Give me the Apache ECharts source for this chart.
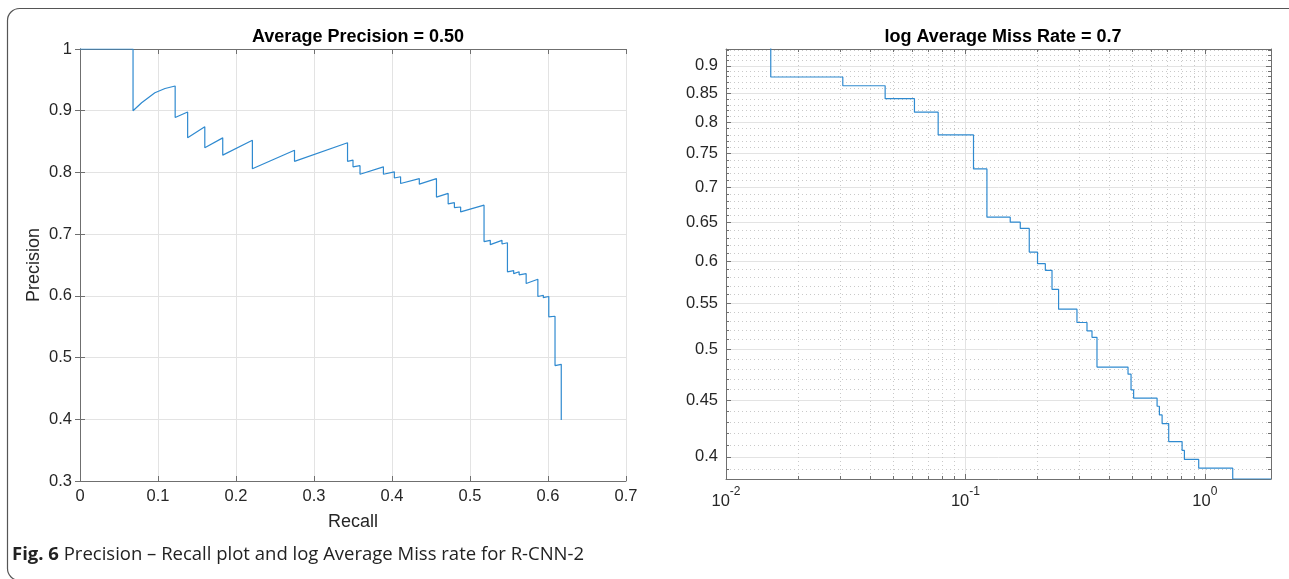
<!DOCTYPE html>
<html><head><meta charset="utf-8">
<script src="https://cdn.jsdelivr.net/npm/echarts@6/dist/echarts.min.js"></script>
<style>html,body{margin:0;padding:0;background:#fff}#c{width:1289px;height:579px}</style>
</head><body><div id="c"></div><script>
// ---- Precision-Recall data ----
const prRecall = [0,0.068,0.068,0.079,0.096,0.109,0.122,0.122,0.138,0.138,0.160,0.160,0.183,0.183,0.221,0.221,0.275,0.275,0.343,0.343,0.350,0.350,0.359,0.359,0.389,0.389,0.403,0.403,0.411,0.411,0.435,0.435,0.457,0.457,0.472,0.472,0.480,0.480,0.488,0.488,0.518,0.518,0.526,0.526,0.541,0.541,0.548,0.548,0.556,0.556,0.563,0.563,0.572,0.572,0.587,0.587,0.594,0.594,0.601,0.601,0.609,0.609,0.617,0.617];
const prPrecision = [1,1,0.900,0.913,0.929,0.936,0.940,0.889,0.898,0.856,0.874,0.840,0.856,0.828,0.852,0.806,0.836,0.818,0.848,0.818,0.820,0.809,0.811,0.797,0.809,0.797,0.801,0.791,0.793,0.782,0.790,0.781,0.790,0.760,0.766,0.749,0.751,0.743,0.744,0.736,0.747,0.688,0.690,0.683,0.690,0.684,0.686,0.639,0.641,0.636,0.639,0.634,0.636,0.620,0.627,0.599,0.601,0.597,0.599,0.566,0.567,0.487,0.489,0.399];
// ---- Miss rate vs FPPI data ----
const fppi = [0.01538,0.01538,0.03075,0.04621,0.06126,0.07695,0.1081,0.1230,0.1539,0.1695,0.1848,0.2001,0.2157,0.2300,0.2450,0.2924,0.3220,0.3379,0.3545,0.4778,0.4919,0.5043,0.6319,0.6460,0.6632,0.7066,0.8037,0.8218,0.9430,1.308,1.89];
const missRate = [1.0,0.8794,0.8636,0.8407,0.8176,0.7798,0.7268,0.6575,0.6507,0.6424,0.6116,0.5971,0.5889,0.5662,0.5433,0.5285,0.5195,0.5125,0.4818,0.4748,0.4596,0.4517,0.4442,0.4363,0.4285,0.4128,0.4053,0.3978,0.3907,0.382,0.382];
// ---- ticks ----
const mrXTicks = [0.01,0.1,1];
const mrXMinor = [0.02,0.03,0.04,0.05,0.06,0.07,0.08,0.09,0.2,0.3,0.4,0.5,0.6,0.7,0.8,0.9];
const mrYTicks = [0.4,0.45,0.5,0.55,0.6,0.65,0.7,0.75,0.8,0.85,0.9];
const mrYMinor = [0.39,0.41,0.42,0.43,0.44,0.46,0.47,0.48,0.49,0.51,0.52,0.53,0.54,0.56,0.57,0.58,0.59,0.61,0.62,0.63,0.64,0.66,0.67,0.68,0.69,0.71,0.72,0.73,0.74,0.76,0.77,0.78,0.79,0.81,0.82,0.83,0.84,0.86,0.87,0.88,0.89,0.91,0.92,0.93];

const FONT = 'Liberation Sans, Arial, sans-serif';
const TXT = '#262626';
const AX = '#6f6f6f';
const GRIDC = '#e3e3e3';
const MINC = '#c9c9c9';
const LINEC = '#2f8ad0';
const TICKFS = 16.5;

const axLine = {show:true, lineStyle:{color:AX, width:1}};
const lbl = {color:TXT, fontFamily:FONT, fontSize:TICKFS};

function zip(a,b){return a.map((v,i)=>[v,b[i]]);}

const chart = echarts.init(document.getElementById('c'), null, {renderer:'canvas'});
const option = {
  animation:false,
  backgroundColor:'#fff',
  title:[
    {text:'Average Precision = 0.50', left:353, top:23, textAlign:'center',
     textStyle:{fontFamily:FONT, fontSize:18, fontWeight:'bold', color:'#000'}},
    {text:'log Average Miss Rate = 0.7', left:998, top:23, textAlign:'center',
     textStyle:{fontFamily:FONT, fontSize:18, fontWeight:'bold', color:'#000'}}
  ],
  grid:[
    {left:80, right:663, top:49, bottom:98},
    {left:726, right:18, top:49, bottom:100}
  ],
  xAxis:[
    {type:'value', gridIndex:0, min:0, max:0.7, interval:0.1, position:'bottom',
     name:'Recall', nameLocation:'middle', nameGap:32, nameTextStyle:{color:TXT, fontFamily:FONT, fontSize:18},
     axisLine:axLine, axisTick:{inside:true, length:5, lineStyle:{color:AX}},
     axisLabel:Object.assign({margin:7, formatter:v=>String(+v.toFixed(1))}, lbl),
     splitLine:{show:true, lineStyle:{color:GRIDC}}},
    {type:'value', gridIndex:0, min:0, max:0.7, interval:0.1, position:'top',
     axisLine:axLine, axisTick:{inside:true, length:5, lineStyle:{color:AX}},
     axisLabel:{show:false}, splitLine:{show:false}},
    {type:'log', gridIndex:1, min:0.01, max:1.89, position:'bottom',
     axisLine:axLine, axisTick:{inside:true, length:5, lineStyle:{color:AX}, customValues:mrXTicks},
     axisLabel:{customValues:mrXTicks, margin:7, color:TXT, fontFamily:FONT, fontSize:TICKFS,
       formatter:v=>'{b|10}{s|'+Math.round(Math.log10(v))+'}',
       rich:{b:{fontSize:TICKFS, color:TXT, fontFamily:FONT, lineHeight:24, verticalAlign:'bottom'},
             s:{fontSize:12, color:TXT, fontFamily:FONT, lineHeight:24, verticalAlign:'top'}}},
     splitLine:{show:true, lineStyle:{color:GRIDC}}},
    {type:'log', gridIndex:1, min:0.01, max:1.89, position:'top',
     axisLine:axLine, axisTick:{inside:true, length:5, lineStyle:{color:AX}, customValues:mrXTicks},
     axisLabel:{show:false}, splitLine:{show:false}},
    {type:'log', gridIndex:1, min:0.01, max:1.89, position:'bottom',
     axisLine:{show:false}, axisTick:{inside:true, length:3, lineStyle:{color:AX}, customValues:mrXMinor},
     axisLabel:{show:false}, splitLine:{show:true, lineStyle:{color:MINC, type:[1,3]}}},
    {type:'log', gridIndex:1, min:0.01, max:1.89, position:'top',
     axisLine:{show:false}, axisTick:{inside:true, length:3, lineStyle:{color:AX}, customValues:mrXMinor},
     axisLabel:{show:false}, splitLine:{show:false}}
  ],
  yAxis:[
    {type:'value', gridIndex:0, min:0.3, max:1, interval:0.1, position:'left',
     name:'Precision', nameLocation:'middle', nameGap:37, nameTextStyle:{color:TXT, fontFamily:FONT, fontSize:18},
     axisLine:axLine, axisTick:{inside:true, length:5, lineStyle:{color:AX}},
     axisLabel:Object.assign({margin:8, formatter:v=>String(+v.toFixed(1))}, lbl),
     splitLine:{show:true, lineStyle:{color:GRIDC}}},
    {type:'value', gridIndex:0, min:0.3, max:1, interval:0.1, position:'right',
     axisLine:axLine, axisTick:{inside:true, length:5, lineStyle:{color:AX}},
     axisLabel:{show:false}, splitLine:{show:false}},
    {type:'log', gridIndex:1, min:0.382, max:0.932, position:'left',
     axisLine:axLine, axisTick:{inside:true, length:5, lineStyle:{color:AX}, customValues:mrYTicks},
     axisLabel:Object.assign({customValues:mrYTicks, margin:8, formatter:v=>String(+(+v).toFixed(2))}, lbl),
     splitLine:{show:true, lineStyle:{color:GRIDC}}},
    {type:'log', gridIndex:1, min:0.382, max:0.932, position:'right',
     axisLine:axLine, axisTick:{inside:true, length:5, lineStyle:{color:AX}, customValues:mrYTicks},
     axisLabel:{show:false}, splitLine:{show:false}},
    {type:'log', gridIndex:1, min:0.382, max:0.932, position:'left',
     axisLine:{show:false}, axisTick:{inside:true, length:3, lineStyle:{color:AX}, customValues:mrYMinor},
     axisLabel:{show:false}, splitLine:{show:true, lineStyle:{color:MINC, type:[1,3]}}},
    {type:'log', gridIndex:1, min:0.382, max:0.932, position:'right',
     axisLine:{show:false}, axisTick:{inside:true, length:3, lineStyle:{color:AX}, customValues:mrYMinor},
     axisLabel:{show:false}, splitLine:{show:false}}
  ],
  series:[
    {type:'line', xAxisIndex:0, yAxisIndex:0, data:zip(prRecall, prPrecision), showSymbol:false,
     lineStyle:{color:LINEC, width:1.2}, z:10},
    {type:'line', xAxisIndex:2, yAxisIndex:2, data:zip(fppi, missRate), step:'end', showSymbol:false,
     lineStyle:{color:LINEC, width:1.2}, z:10, clip:true}
  ],
  graphic:[
    {type:'rect', shape:{x:7.5, y:8.5, width:1300, height:572, r:12}, silent:true,
     style:{fill:'none', stroke:'#555', lineWidth:1.2}, z:-1},
    {type:'text', left:12, top:545, silent:true,
     style:{text:'{b|Fig. 6} Precision – Recall plot and log Average Miss rate for R-CNN-2',
       fontFamily:'Open Sans, sans-serif', fontSize:18.5, fill:'#222',
       rich:{b:{fontFamily:'Open Sans, sans-serif', fontSize:18.5, fontWeight:'bold', fill:'#222'}}}}
  ]
};
chart.setOption(option);
</script></body></html>
